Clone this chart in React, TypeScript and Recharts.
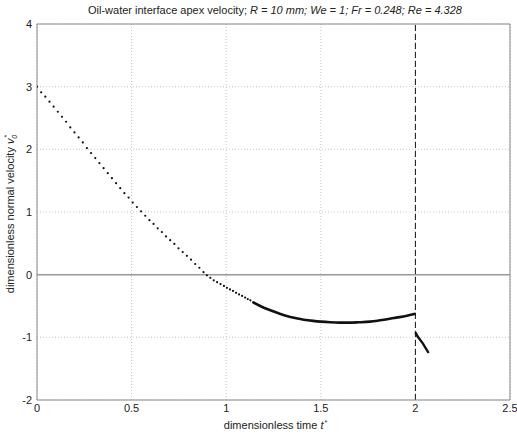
import React from "react";
import {
  ComposedChart,
  Line,
  Scatter,
  XAxis,
  YAxis,
  CartesianGrid,
  ReferenceLine,
  Label,
} from "recharts";

const xTicks = [0, 0.5, 1, 1.5, 2, 2.5];
const yTicks = [-2, -1, 0, 1, 2, 3, 4];

const dottedT = [
  0, 0.022, 0.044, 0.066, 0.088, 0.11, 0.132, 0.154, 0.176, 0.198, 0.22, 0.242,
  0.264, 0.286, 0.308, 0.33, 0.352, 0.374, 0.396, 0.418, 0.44, 0.462, 0.484,
  0.506, 0.528, 0.55, 0.572, 0.594, 0.616, 0.638, 0.66, 0.682, 0.704, 0.726,
  0.748, 0.77, 0.792, 0.814, 0.836, 0.858, 0.88, 0.898, 0.916, 0.934, 0.952,
  0.97, 0.988, 1.004, 1.02, 1.036, 1.052, 1.068, 1.084, 1.1, 1.114, 1.128, 1.142,
];
const dottedV = [
  3.0, 2.91, 2.84, 2.76, 2.68, 2.6, 2.52, 2.44, 2.35, 2.27, 2.19, 2.11, 2.02,
  1.94, 1.86, 1.78, 1.7, 1.62, 1.54, 1.46, 1.38, 1.3, 1.23, 1.15, 1.08, 1.01,
  0.94, 0.87, 0.81, 0.74, 0.68, 0.61, 0.55, 0.49, 0.42, 0.36, 0.3, 0.24, 0.17,
  0.11, 0.04, -0.01, -0.05, -0.09, -0.12, -0.15, -0.18, -0.21, -0.235, -0.26,
  -0.29, -0.315, -0.34, -0.365, -0.39, -0.41, -0.44,
];

const solidT = [
  1.142, 1.18, 1.23, 1.28, 1.32, 1.37, 1.41, 1.46, 1.5, 1.55, 1.6, 1.65, 1.7,
  1.76, 1.8, 1.85, 1.9, 1.95, 2.0,
];
const solidV = [
  -0.44, -0.5, -0.565, -0.62, -0.66, -0.695, -0.718, -0.738, -0.75, -0.76, -0.765,
  -0.765, -0.76, -0.75, -0.735, -0.71, -0.685, -0.66, -0.625,
];

const jumpT = [2.0, 2.01, 2.04, 2.07];
const jumpV = [-0.92, -0.98, -1.1, -1.25];

const dottedData = dottedT.map((t, i) => ({ t, v: dottedV[i] }));
const solidData = solidT.map((t, i) => ({ t, v: solidV[i] }));
const jumpData = jumpT.map((t, i) => ({ t, v: jumpV[i] }));

const FONT = "'Liberation Sans', Arial, sans-serif";
const TXT = "#222";
const AXIS = "#888";

const Dot = (props: any) => {
  const { cx, cy } = props;
  if (cx == null || cy == null) return null;
  return <circle cx={cx} cy={cy} r={1.1} fill="#111" />;
};

const YLabel = (props: any) => {
  const vb = props.viewBox || {};
  const cx = 14;
  const cy = (vb.y ?? 24) + (vb.height ?? 376) / 2 + 2;
  return (
    <text
      x={cx}
      y={cy}
      transform={`rotate(-90 ${cx} ${cy})`}
      textAnchor="middle"
      fontFamily={FONT}
      fontSize={11}
      fill={TXT}
    >
      dimensionless normal velocity{"  "}
      <tspan fontStyle="italic">v</tspan>
      <tspan fontSize={7} dy={-5} dx={1}>*</tspan>
      <tspan fontSize={7} fontStyle="italic" dy={8} dx={-4}>0</tspan>
    </text>
  );
};

const XLabel = (props: any) => {
  const vb = props.viewBox || {};
  const cx = (vb.x ?? 37) + (vb.width ?? 473) / 2 + 2;
  return (
    <text
      x={cx}
      y={429}
      textAnchor="middle"
      fontFamily={FONT}
      fontSize={11}
      fill={TXT}
    >
      dimensionless time{"  "}
      <tspan fontStyle="italic">t</tspan>
      <tspan fontSize={7} dy={-4} dx={1}>*</tspan>
    </text>
  );
};

export default function App() {
  return (
    <div style={{ position: "absolute", left: 0, top: 0, width: 517, height: 435, background: "#fff" }}>
      <div
        style={{
          position: "absolute",
          left: 0,
          top: 4,
          width: 550,
          textAlign: "center",
          fontFamily: FONT,
          fontSize: 11,
          color: TXT,
          whiteSpace: "nowrap",
        }}
      >
        Oil-water interface apex velocity;{" "}
        <span style={{ fontStyle: "italic" }}>R = 10 mm; We = 1; Fr = 0.248; Re = 4.328</span>
      </div>
      <ComposedChart
        width={517}
        height={435}
        margin={{ top: 24, right: 7, bottom: 0, left: 0 }}
        style={{ position: "absolute", left: 0, top: 0 }}
      >
        <CartesianGrid stroke="#c8c8c8" strokeDasharray="1 2" />
        <XAxis
          dataKey="t"
          type="number"
          domain={[0, 2.5]}
          ticks={xTicks}
          allowDataOverflow
          height={35}
          tickLine={false}
          tickSize={0}
          tickMargin={4}
          stroke={AXIS}
          tick={{ fontFamily: FONT, fontSize: 11, fill: TXT }}
        >
          <Label content={<XLabel />} />
        </XAxis>
        <YAxis
          dataKey="v"
          type="number"
          domain={[-2, 4]}
          ticks={yTicks}
          allowDataOverflow
          width={37}
          tickLine={false}
          tickSize={0}
          tickMargin={5}
          stroke={AXIS}
          tick={{ fontFamily: FONT, fontSize: 11, fill: TXT }}
        >
          <Label content={<YLabel />} />
        </YAxis>
        <ReferenceLine y={4} stroke={AXIS} />
        <ReferenceLine x={2.5} stroke={AXIS} />
        <ReferenceLine y={0} stroke="#999" strokeWidth={1.5} />
        <ReferenceLine x={2} stroke="#111" strokeDasharray="6 3" strokeWidth={1} />
        <Scatter
          data={dottedData}
          dataKey="v"
          shape={<Dot />}
          isAnimationActive={false}
        />
        <Line
          data={solidData}
          dataKey="v"
          type="monotone"
          stroke="#111"
          strokeWidth={2.6}
          dot={false}
          isAnimationActive={false}
        />
        <Line
          data={jumpData}
          dataKey="v"
          type="linear"
          stroke="#111"
          strokeWidth={2.4}
          dot={false}
          isAnimationActive={false}
        />
      </ComposedChart>
    </div>
  );
}
